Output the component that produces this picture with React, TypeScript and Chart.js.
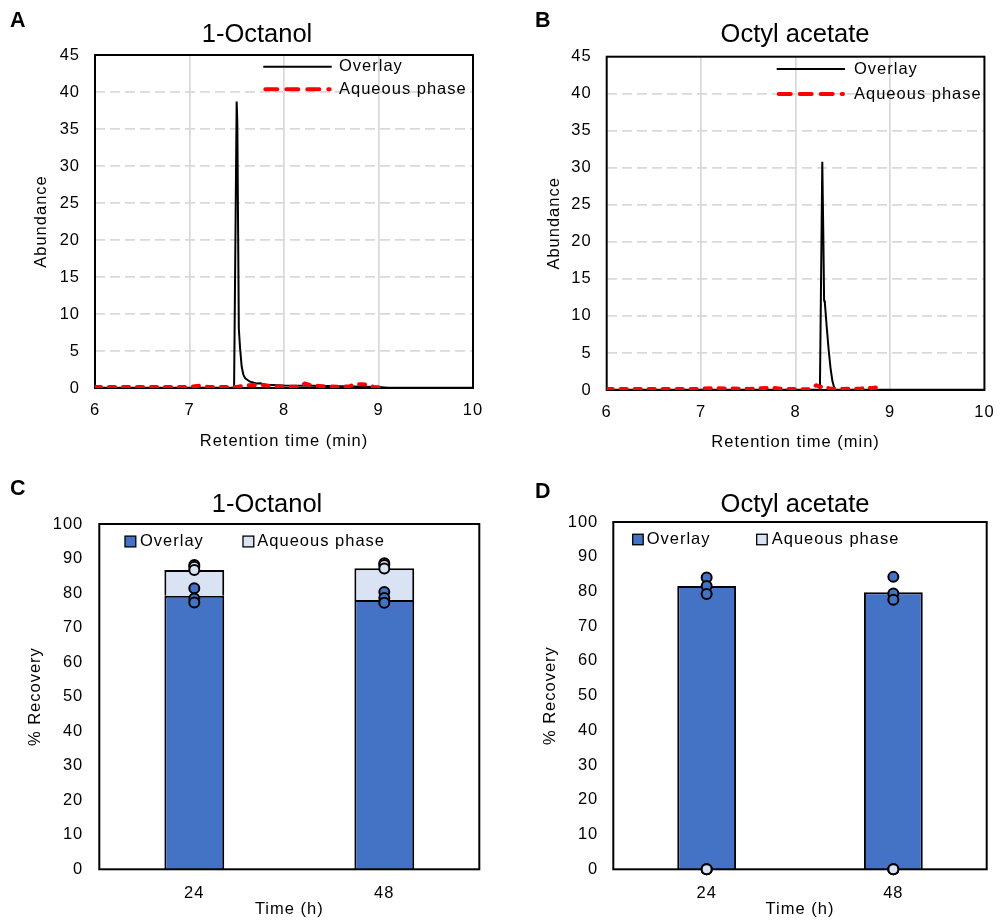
import React, { useEffect, useRef } from 'react';
import { Chart, registerables } from 'chart.js';

Chart.register(...registerables);

const FONT_FAMILY = "'Liberation Sans', Arial, Helvetica, sans-serif";
const BASE_SIZE = 16.5;
const LINE_H = BASE_SIZE * 1.2;
const PAGE_W = 1007;
const PAGE_H = 920;

// ---------- Data: chromatograms (panels A, B) ----------
const octanolOverlayTime = [6.0, 7.0, 7.465, 7.472, 7.499, 7.506, 7.522, 7.535, 7.552, 7.57, 7.59, 7.64, 7.68, 7.71, 7.75, 7.8, 8.0, 8.3, 8.6, 9.0, 9.1, 10.0];
const octanolOverlayAbund = [0.05, 0.05, 0.05, 0.3, 38.7, 36.0, 8.0, 5.4, 2.9, 1.8, 1.3, 0.85, 0.7, 0.6, 0.65, 0.45, 0.35, 0.3, 0.25, 0.15, 0.05, 0.05];
const octanolAqueousTime = [6.0, 6.5, 7.0, 7.1, 7.2, 7.5, 7.6, 7.7, 7.78, 7.9, 8.15, 8.22, 8.28, 8.4, 8.6, 8.7, 8.75, 8.82, 8.88, 8.95, 9.0];
const octanolAqueousAbund = [0.15, 0.15, 0.15, 0.3, 0.15, 0.15, 0.35, 0.4, 0.4, 0.2, 0.15, 0.6, 0.4, 0.25, 0.15, 0.25, 0.55, 0.5, 0.45, 0.15, 0.1];

const octylOverlayTime = [6.0, 8.0, 8.258, 8.283, 8.295, 8.302, 8.31, 8.33, 8.35, 8.37, 8.39, 8.415, 9.0, 10.0];
const octylOverlayAbund = [0.02, 0.02, 0.05, 30.8, 20.0, 12.1, 11.8, 8.5, 5.5, 3.0, 1.2, 0.05, 0.02, 0.02];
const octylAqueousTime = [6.0, 7.0, 7.1, 7.5, 7.75, 7.85, 8.15, 8.22, 8.26, 8.3, 8.36, 8.5, 8.7, 8.74, 8.8, 8.86, 8.9, 8.93];
const octylAqueousAbund = [0.15, 0.15, 0.25, 0.15, 0.3, 0.15, 0.1, 0.65, 0.4, 0.55, 0.2, 0.15, 0.2, 0.4, 0.25, 0.35, 0.3, 0.1];

const retentionTicks = { min: 6, max: 10, step: 1 };
const abundanceTicks = { min: 0, max: 45, step: 5 };

// ---------- Data: recovery (panels C, D) ----------
const timeLabels = ['24', '48'];
const octanolOverlay = [79.2, 78.0];
const octanolAqueous = [7.5, 9.2];
const octylOverlay = [81.6, 79.8];
const octylAqueous = [0, 0];

const octanolOverlayReps24 = [81.4, 78.4, 77.3];
const octanolOverlayReps48 = [80.3, 78.6, 77.2];
const octanolAqueousReps24 = [88.1, 87.6, 86.7];
const octanolAqueousReps48 = [88.6, 88.1, 87.1];
const octylOverlayReps24 = [84.0, 81.6, 79.3];
const octylOverlayReps48 = [84.2, 79.4, 77.6];
const octylAqueousReps24 = [0, 0, 0];
const octylAqueousReps48 = [0, 0, 0];

const recoveryTicks = { min: 0, max: 100, step: 10 };

// ---------- Styles ----------
const BLUE = '#4472C4';
const LIGHT = '#DAE3F3';
const RED = '#FF0000';
const GRID = '#d9d9d9';

Chart.defaults.font.family = FONT_FAMILY;
Chart.defaults.font.size = BASE_SIZE;
Chart.defaults.color = '#000';

type Plot = { l: number; t: number; r: number; b: number };

function layoutFor(plot: Plot, yTitleX: number, xTitleY: number) {
  const axisLeft = yTitleX - LINE_H / 2;
  const axisBottom = xTitleY + LINE_H / 2;
  return {
    padding: { left: axisLeft, top: plot.t, right: PAGE_W - plot.r, bottom: PAGE_H - axisBottom },
    yWidth: plot.l - axisLeft,
    xHeight: axisBottom - plot.b,
  };
}

function drawFrame(chart: any) {
  const { left, top, right, bottom } = chart.chartArea;
  const ctx = chart.ctx;
  ctx.save();
  ctx.strokeStyle = '#000';
  ctx.lineWidth = 2;
  ctx.setLineDash([]);
  ctx.strokeRect(left, top, right - left, bottom - top);
  ctx.restore();
}

function makeDecor(d: any) {
  return {
    id: 'panelDecor',
    beforeLayout(chart: any) {
      chart.ctx.letterSpacing = '1px';
    },
    beforeDraw(chart: any) {
      chart.ctx.letterSpacing = '1px';
      chart.$frameDone = false;
    },
    beforeDatasetDraw(chart: any, args: any) {
      if (!chart.$frameDone && args.meta.type === 'line') {
        drawFrame(chart);
        chart.$frameDone = true;
      }
    },
    afterDatasetsDraw(chart: any) {
      if (!chart.$frameDone) {
        drawFrame(chart);
        chart.$frameDone = true;
      }
    },
    afterDraw(chart: any) {
      const ctx = chart.ctx;
      ctx.save();
      ctx.fillStyle = '#000';
      ctx.letterSpacing = '0px';
      ctx.textAlign = 'left';
      ctx.textBaseline = 'alphabetic';
      ctx.font = `bold 21.5px ${FONT_FAMILY}`;
      ctx.fillText(d.letter, d.letterX, d.letterY);
      ctx.font = `25.5px ${FONT_FAMILY}`;
      ctx.textAlign = 'center';
      ctx.fillText(d.title, d.titleX, d.titleY);
      ctx.letterSpacing = '1px';
      ctx.font = `${BASE_SIZE}px ${FONT_FAMILY}`;
      ctx.textAlign = 'left';
      ctx.textBaseline = 'middle';
      for (const item of d.legend) {
        const ds = chart.data.datasets[item.datasetIndex];
        if (item.kind === 'line') {
          ctx.save();
          ctx.strokeStyle = ds.borderColor;
          ctx.lineWidth = ds.borderWidth;
          ctx.setLineDash(item.dash || []);
          ctx.lineCap = item.dash ? 'round' : 'butt';
          ctx.beginPath();
          const off = item.dash ? ds.borderWidth / 2 : 0;
          ctx.moveTo(item.x1 + off, item.y);
          ctx.lineTo(item.x2 - off, item.y);
          ctx.stroke();
          ctx.restore();
        } else {
          ctx.save();
          ctx.fillStyle = ds.backgroundColor;
          ctx.fillRect(item.bx, item.y - item.size / 2, item.size, item.size);
          ctx.strokeStyle = '#000';
          ctx.lineWidth = 1.3;
          ctx.strokeRect(item.bx, item.y - item.size / 2, item.size, item.size);
          ctx.restore();
        }
        ctx.fillStyle = '#000';
        ctx.fillText(ds.label, item.tx, item.y);
      }
      ctx.restore();
    },
  };
}

const zip = (xs: number[], ys: number[]) => xs.map((x, i) => ({ x, y: ys[i] }));

const font = () => ({ family: FONT_FAMILY, size: BASE_SIZE, lineHeight: 1.2 });

function lineConfig(p: any) {
  const lay = layoutFor(p.plot, p.yTitleX, p.xTitleY);
  return {
    type: 'line',
    data: {
      datasets: [
        {
          label: 'Overlay',
          data: zip(p.ovT, p.ovA),
          borderColor: '#000',
          borderWidth: 2,
          pointRadius: 0,
          tension: 0,
          fill: false,
          order: 1,
        },
        {
          label: 'Aqueous phase',
          data: zip(p.aqT, p.aqA),
          borderColor: RED,
          borderWidth: 4,
          borderDash: [6, 8],
          borderCapStyle: 'round',
          borderJoinStyle: 'round',
          pointRadius: 0,
          tension: 0,
          fill: false,
          order: 0,
        },
      ],
    },
    options: {
      responsive: false,
      animation: false,
      events: [],
      layout: { padding: lay.padding },
      plugins: { legend: { display: false }, tooltip: { enabled: false } },
      scales: {
        x: {
          type: 'linear',
          min: retentionTicks.min,
          max: retentionTicks.max,
          ticks: { stepSize: retentionTicks.step, padding: p.xTickPad, font: font() },
          grid: {
            drawTicks: false,
            lineWidth: 1.75,
            color: (c: any) =>
              c.tick && (c.tick.value === retentionTicks.min || c.tick.value === retentionTicks.max) ? 'rgba(0,0,0,0)' : GRID,
          },
          border: { display: false },
          title: { display: true, text: 'Retention time (min)', padding: 0, font: font() },
          afterFit: (s: any) => {
            s.height = lay.xHeight;
          },
        },
        y: {
          type: 'linear',
          min: abundanceTicks.min,
          max: abundanceTicks.max,
          ticks: { stepSize: abundanceTicks.step, padding: p.yTickPad, font: font() },
          grid: {
            drawTicks: false,
            lineWidth: 1.75,
            color: (c: any) =>
              c.tick && (c.tick.value === abundanceTicks.min || c.tick.value === abundanceTicks.max) ? 'rgba(0,0,0,0)' : GRID,
          },
          border: { display: false, dash: [10, 5] },
          title: { display: true, text: 'Abundance', padding: 0, font: font() },
          afterFit: (s: any) => {
            s.width = lay.yWidth;
          },
        },
      },
    },
    plugins: [makeDecor(p.decor)],
  };
}

const repPoints = (reps24: number[], reps48: number[]) => [
  ...reps24.map((y) => ({ x: timeLabels[0], y })),
  ...reps48.map((y) => ({ x: timeLabels[1], y })),
];

function barConfig(p: any) {
  const lay = layoutFor(p.plot, p.yTitleX, p.xTitleY);
  const pointStyle = (color: string) => ({
    type: 'line',
    yAxisID: 'yp',
    showLine: false,
    pointRadius: 5,
    pointBorderWidth: 2,
    pointBackgroundColor: color,
    pointBorderColor: '#000',
    backgroundColor: color,
    borderColor: '#000',
    clip: false,
    order: 0,
  });
  return {
    type: 'bar',
    data: {
      labels: timeLabels,
      datasets: [
        { label: 'Overlay', data: p.overlay, backgroundColor: BLUE, borderColor: '#000', borderWidth: 2, order: 1 },
        { label: 'Aqueous phase', data: p.aqueous, backgroundColor: LIGHT, borderColor: '#000', borderWidth: 2, order: 1 },
        { label: 'Overlay replicates', data: repPoints(p.ovR24, p.ovR48), ...pointStyle(BLUE) },
        { label: 'Aqueous phase replicates', data: repPoints(p.aqR24, p.aqR48), ...pointStyle(LIGHT) },
      ],
    },
    options: {
      responsive: false,
      animation: false,
      events: [],
      layout: { padding: lay.padding },
      datasets: { bar: { barPercentage: 0.315, categoryPercentage: 1 } },
      plugins: { legend: { display: false }, tooltip: { enabled: false } },
      scales: {
        x: {
          type: 'category',
          stacked: true,
          ticks: { padding: p.xTickPad, font: font() },
          grid: { display: false, drawTicks: false },
          border: { display: false },
          title: { display: true, text: 'Time (h)', padding: 0, font: font() },
          afterFit: (s: any) => {
            s.height = lay.xHeight;
          },
        },
        y: {
          type: 'linear',
          stacked: true,
          min: recoveryTicks.min,
          max: recoveryTicks.max,
          ticks: { stepSize: recoveryTicks.step, padding: p.yTickPad, font: font() },
          grid: { display: false, drawTicks: false },
          border: { display: false },
          title: { display: true, text: '% Recovery', padding: 0, font: font() },
          afterFit: (s: any) => {
            s.width = lay.yWidth;
          },
        },
        yp: {
          type: 'linear',
          display: false,
          min: recoveryTicks.min,
          max: recoveryTicks.max,
        },
      },
    },
    plugins: [makeDecor(p.decor)],
  };
}

const configA = () =>
  lineConfig({
    plot: { l: 95, t: 55, r: 473, b: 388 },
    yTitleX: 41,
    xTitleY: 441.8,
    xTickPad: 12.8,
    yTickPad: 15,
    ovT: octanolOverlayTime,
    ovA: octanolOverlayAbund,
    aqT: octanolAqueousTime,
    aqA: octanolAqueousAbund,
    decor: {
      letter: 'A', letterX: 10, letterY: 26.7,
      title: '1-Octanol', titleX: 257, titleY: 42,
      legend: [
        { datasetIndex: 0, kind: 'line', x1: 263.3, x2: 331.7, y: 66.7, tx: 339 },
        { datasetIndex: 1, kind: 'line', x1: 263.3, x2: 331.7, y: 89.3, tx: 339, dash: [12, 9] },
      ],
    },
  });

const configB = () =>
  lineConfig({
    plot: { l: 606.7, t: 56.7, r: 992.7, b: 390 },
    yTitleX: 554,
    xTitleY: 442.2,
    xTickPad: 12.4,
    yTickPad: 15,
    ovT: octylOverlayTime,
    ovA: octylOverlayAbund,
    aqT: octylAqueousTime,
    aqA: octylAqueousAbund,
    decor: {
      letter: 'B', letterX: 535, letterY: 26.7,
      title: 'Octyl acetate', titleX: 795, titleY: 42,
      legend: [
        { datasetIndex: 0, kind: 'line', x1: 776.7, x2: 845, y: 69, tx: 854 },
        { datasetIndex: 1, kind: 'line', x1: 776.7, x2: 845, y: 94, tx: 854, dash: [12, 9] },
      ],
    },
  });

const configC = () =>
  barConfig({
    plot: { l: 99.3, t: 524, r: 479.3, b: 869.3 },
    yTitleX: 35.8,
    xTitleY: 909.2,
    xTickPad: 13.8,
    yTickPad: 16,
    overlay: octanolOverlay,
    aqueous: octanolAqueous,
    ovR24: octanolOverlayReps24,
    ovR48: octanolOverlayReps48,
    aqR24: octanolAqueousReps24,
    aqR48: octanolAqueousReps48,
    decor: {
      letter: 'C', letterX: 10, letterY: 494.7,
      title: '1-Octanol', titleX: 267, titleY: 511.7,
      legend: [
        { datasetIndex: 0, kind: 'box', bx: 125, size: 10.8, y: 541.5, tx: 140 },
        { datasetIndex: 1, kind: 'box', bx: 243, size: 10.8, y: 541.5, tx: 257.3 },
      ],
    },
  });

const configD = () =>
  barConfig({
    plot: { l: 613.3, t: 522, r: 986.7, b: 869.3 },
    yTitleX: 550,
    xTitleY: 909,
    xTickPad: 13.8,
    yTickPad: 15,
    overlay: octylOverlay,
    aqueous: octylAqueous,
    ovR24: octylOverlayReps24,
    ovR48: octylOverlayReps48,
    aqR24: octylAqueousReps24,
    aqR48: octylAqueousReps48,
    decor: {
      letter: 'D', letterX: 535, letterY: 497.5,
      title: 'Octyl acetate', titleX: 795, titleY: 511.7,
      legend: [
        { datasetIndex: 0, kind: 'box', bx: 632.7, size: 10.5, y: 539.5, tx: 646.7 },
        { datasetIndex: 1, kind: 'box', bx: 756.7, size: 10.5, y: 539.5, tx: 771.7 },
      ],
    },
  });

function ChartCanvas({ make }: { make: () => any }) {
  const ref = useRef<HTMLCanvasElement | null>(null);
  useEffect(() => {
    if (!ref.current) return;
    const chart = new Chart(ref.current, make());
    return () => chart.destroy();
  }, [make]);
  return (
    <canvas
      ref={ref}
      width={PAGE_W}
      height={PAGE_H}
      style={{ position: 'absolute', left: 0, top: 0, width: PAGE_W, height: PAGE_H }}
    />
  );
}

export default function App() {
  return (
    <div style={{ position: 'absolute', left: 0, top: 0, width: PAGE_W, height: PAGE_H, background: '#fff', overflow: 'hidden' }}>
      <ChartCanvas make={configA} />
      <ChartCanvas make={configB} />
      <ChartCanvas make={configC} />
      <ChartCanvas make={configD} />
    </div>
  );
}
